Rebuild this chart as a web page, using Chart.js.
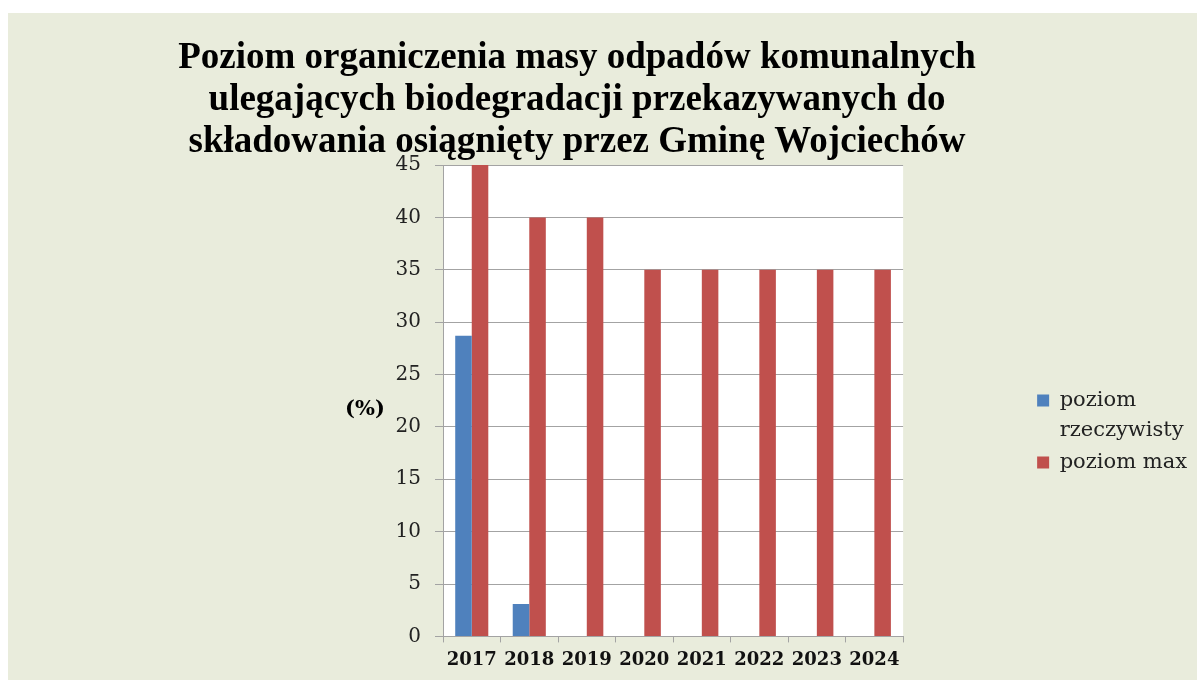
<!DOCTYPE html>
<html>
<head>
<meta charset="utf-8">
<title>Poziom ograniczenia</title>
<script src="https://cdn.jsdelivr.net/npm/chart.js@4/dist/chart.umd.min.js"></script>
<style>
  html, body { margin: 0; padding: 0; background: #fff; }
  #wrap { position: absolute; left: 8px; top: 13px; width: 1189px; height: 667px; background: #e9ecdc; }
</style>
</head>
<body>
<div id="wrap"><canvas id="chart"></canvas></div>
<script>
const years = ['2017', '2018', '2019', '2020', '2021', '2022', '2023', '2024'];
const poziomRzeczywisty = [28.7, 3.1, null, null, null, null, null, null];
const poziomMax = [45, 40, 40, 35, 35, 35, 35, 35];
const yMin = 0, yMax = 45, yStep = 5;
const titleLines = [
    'Poziom organiczenia masy odpadów komunalnych',
    'ulegających biodegradacji przekazywanych do',
    'składowania osiągnięty przez Gminę Wojciechów'
];
const yUnit = '(%)';

const gridGray = '#a3a3a3';

// white plot area + the title and the (%) label drawn on top
const plotBg = {
    id: 'plotBg',
    beforeDraw(chart) {
        const {ctx, chartArea: a} = chart;
        ctx.save();
        ctx.fillStyle = '#fff';
        ctx.fillRect(a.left, a.top, a.right - a.left, a.bottom - a.top);
        ctx.restore();
    },
    afterDraw(chart) {
        const {ctx, chartArea: a} = chart;
        ctx.save();
        ctx.fillStyle = '#000';
        ctx.textAlign = 'center';
        ctx.textBaseline = 'alphabetic';
        ctx.font = 'bold 37px "Liberation Serif"';
        titleLines.forEach((line, i) => ctx.fillText(line, 569, 55 + i * 42));
        ctx.font = 'bold 21px "DejaVu Serif"';
        ctx.textBaseline = 'middle';
        ctx.fillText(yUnit, 357, (a.top + a.bottom) / 2 + 9);
        ctx.restore();
    }
};

const chart = document.querySelector('#chart');

new Chart(chart, {
    type: 'bar',
    data: {
        labels: years,
        datasets: [
            {
                label: 'poziom rzeczywisty',
                data: poziomRzeczywisty,
                backgroundColor: '#4f81bd',
                borderWidth: 0
            },
            {
                label: 'poziom max',
                data: poziomMax,
                backgroundColor: '#c0504d',
                borderWidth: 0
            }
        ]
    },
    options: {
        responsive: true,
        maintainAspectRatio: false,
        animation: false,
        categoryPercentage: 0.575,
        barPercentage: 1.0,
        layout: {
            padding: { top: 152, bottom: 2, left: 0, right: 0 }
        },
        scales: {
            x: {
                grid: { drawOnChartArea: false, color: gridGray, tickLength: 6 },
                border: { color: gridGray },
                ticks: {
                    color: '#111',
                    padding: 7,
                    maxRotation: 0,
                    minRotation: 0,
                    autoSkip: false,
                    font: { family: '"DejaVu Serif"', size: 18, weight: 'bold' }
                }
            },
            y: {
                min: yMin,
                max: yMax,
                grid: { color: gridGray, tickLength: 8 },
                border: { color: gridGray },
                ticks: {
                    stepSize: yStep,
                    color: '#222',
                    padding: 14,
                    font: { family: '"DejaVu Serif"', size: 20 }
                },
                afterFit: (s) => { s.width = 435 }
            },
            gap: {
                type: 'linear',
                position: 'right',
                grid: { display: false },
                border: { display: false },
                ticks: { display: false },
                afterFit: (s) => { s.width = 133 }
            }
        },
        plugins: {
            tooltip: { enabled: false },
            legend: {
                position: 'right',
                title: { display: true, text: ' ', font: { size: 10 }, padding: 4 },
                labels: {
                    color: '#222',
                    boxWidth: 12,
                    boxHeight: 12,
                    padding: 1,
                    font: { family: '"DejaVu Serif"', size: 21, lineHeight: 1.45 },
                    generateLabels: (c) => Chart.defaults.plugins.legend.labels.generateLabels(c).map(item => {
                        if (item.text.length > 12) {
                            const i = item.text.indexOf(' ');
                            item.text = [item.text.slice(0, i), item.text.slice(i + 1)];
                        }
                        return item;
                    })
                }
            }
        }
    },
    plugins: [plotBg]
})
</script>
</body>
</html>
